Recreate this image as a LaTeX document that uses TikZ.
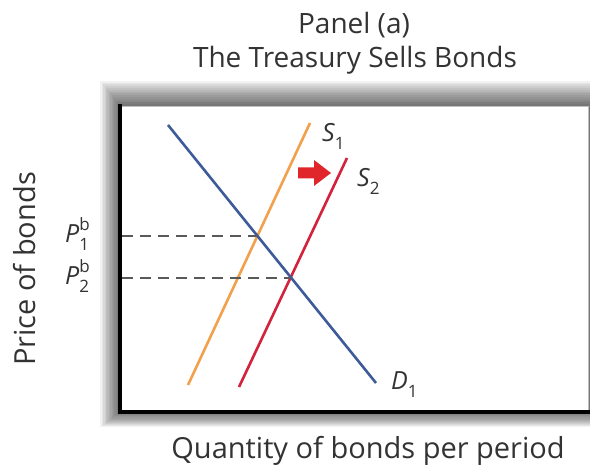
\documentclass[tikz,border=0pt]{standalone}
\usepackage{fontspec}
\setmainfont{Open Sans}
\usetikzlibrary{intersections}
\definecolor{demandblue}{HTML}{3D5B99}
\definecolor{supplyorange}{HTML}{F2A04C}
\definecolor{supplyred}{HTML}{D2223C}
\definecolor{arrowred}{HTML}{E0262A}
\definecolor{textgray}{HTML}{333333}
\newcommand{\mysupsub}[2]{\rlap{\raisebox{0.48em}{\fontsize{17}{17}\selectfont\upshape #1}}\raisebox{-0.3em}{\fontsize{17}{17}\selectfont\upshape #2}}
\newcommand{\mysub}[1]{\raisebox{-0.3em}{\fontsize{17}{17}\selectfont\upshape #1}}
\tikzset{
  curve/.style={line width=2.6pt},
  guide/.style={line width=1.8pt, draw=black!65, dash pattern=on 11pt off 7pt},
  axisline/.style={line width=3.5pt, line cap=rect},
  titletext/.style={text=textgray, font=\fontsize{28}{30}\selectfont, inner sep=0pt},
  axistext/.style={text=textgray, font=\fontsize{29}{30}\selectfont, inner sep=0pt},
  curvelabel/.style={text=textgray, font=\fontsize{25}{30}\selectfont\itshape, inner sep=0pt, anchor=base west},
}
\begin{document}
\begin{tikzpicture}[x=1pt, y=-1pt]
\useasboundingbox (0,0) rectangle (590,470);
\fill[white] (0,0) rectangle (590,470);
% soft shadow around the panel
\foreach \k in {1,...,14}{
  \fill[black, opacity=0.05] (120-\k*1.4, 106-\k*1.8) rectangle (600, 412+\k*1.1);
}
\fill[white] (120,106) rectangle (588,412);
\draw[black!25, line width=0.6pt] (120,106) -- (588,106) -- (588,412);
\draw[axisline] (120,106) -- (120,412) -- (588,412);

% titles
\node[titletext, anchor=base] (t1) at (354,34) {Panel (a)};
\node[titletext, anchor=base] (t2) at (355,68) {The Treasury Sells Bonds};
\node[axistext, anchor=base] (xl) at (368,459) {Quantity of bonds per period};
\node[axistext, anchor=base, rotate=90] (yl) at (35,269) {Price of bonds};

% curves
\coordinate (d1a) at (168,125);
\coordinate (d1b) at (376,383);
\coordinate (s1a) at (188,385);
\coordinate (s1b) at (310,123);
\coordinate (s2a) at (239,387);
\coordinate (s2b) at (347,158);
\draw[curve, supplyorange, name path=S1] (s1a) -- (s1b);
\draw[curve, supplyred, name path=S2] (s2a) -- (s2b);
\draw[curve, demandblue, name path=D1] (d1a) -- (d1b);
\path[name intersections={of=S1 and D1, by=e1}];
\path[name intersections={of=S2 and D1, by=e2}];
\coordinate (y1) at (122,236);
\coordinate (y2) at (122,278);
\draw[guide] (y1) -- (y1 -| e1);
\draw[guide] (y2) -- (y2 -| e2);

% labels
\node[curvelabel] (ls1) at (322,142) {S\mysub{1}};
\node[curvelabel] (ls2) at (357,187) {S\mysub{2}};
\node[curvelabel] (ld1) at (391,390) {D\mysub{1}};
\node[curvelabel] (lp1) at (65,243) {P\mysupsub{b}{1}};
\node[curvelabel] (lp2) at (65,285) {P\mysupsub{b}{2}};

% shift arrow
\fill[arrowred] (298,167.5) -- (314,167.5) -- (314,160) -- (331,173) -- (314,186) -- (314,178.5) -- (298,178.5) -- cycle;
\end{tikzpicture}
\end{document}
